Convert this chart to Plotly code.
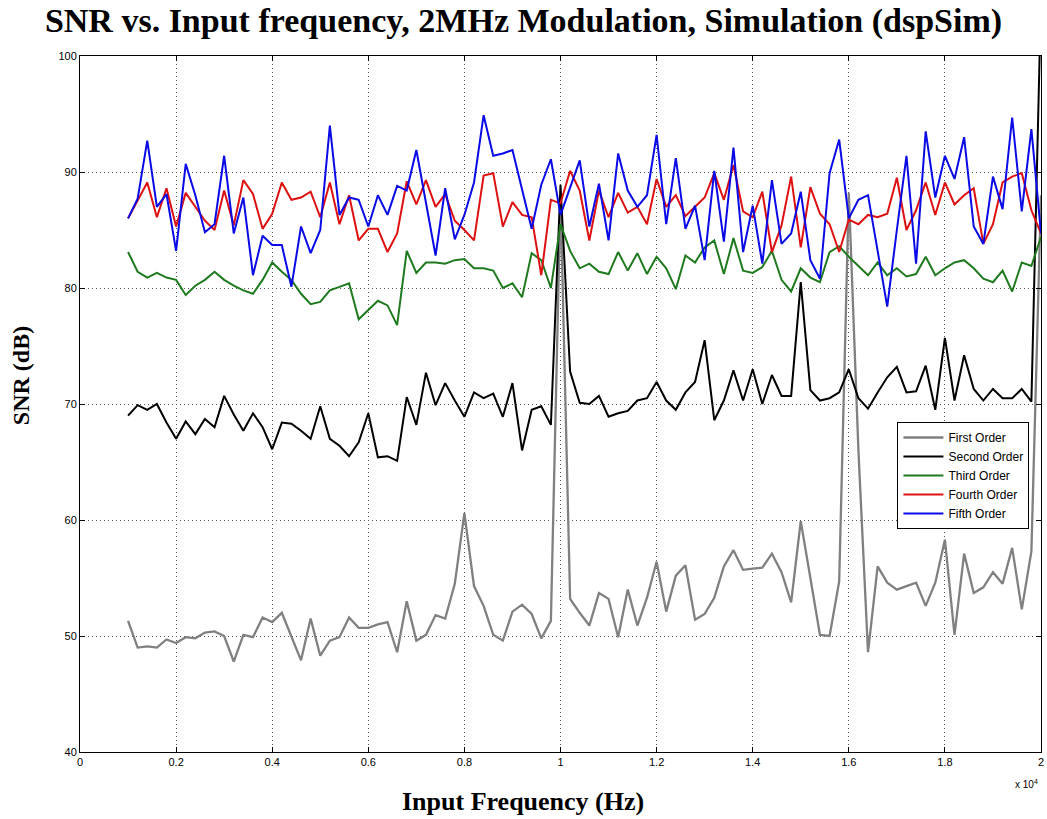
import plotly.graph_objects as go

# Input frequency sampling grid (Hz): 1 kHz to 20 kHz in 200 Hz steps
freq_hz = [1000 + 200 * k for k in range(96)]

first_order = [
    51.3, 49.0, 49.1, 49.0, 49.7, 49.4, 49.9, 49.8, 50.3, 50.4, 50.0, 47.8, 50.1, 49.9, 51.6, 51.2, 52.0, 49.9, 47.9, 51.5, 48.3,
    49.6, 49.9, 51.6, 50.7, 50.7, 51.0, 51.2, 48.6, 53.0, 49.6, 50.1, 51.8, 51.5, 54.5, 60.6, 54.3, 52.6, 50.1, 49.6, 52.1, 52.7, 51.9, 49.8, 51.3,
    88.0,
    53.2, 52.0, 50.9, 53.7, 53.2, 49.9, 54.0, 50.9, 53.3, 56.4, 52.1, 55.2, 56.1, 51.4, 51.9, 53.3, 56.0, 57.4, 55.7, 55.8, 55.9, 57.1, 55.5, 52.9, 59.9,
    55.0, 50.1, 50.0, 54.7, 88.2, 66.0, 48.6, 56.0, 54.6, 54.0, 54.3, 54.6, 52.6, 54.6, 58.3, 50.1, 57.1, 53.7, 54.2, 55.5, 54.5, 57.6, 52.3, 57.3,
    88.0,
]

second_order = [
    69.0, 69.9, 69.5, 70.0, 68.4, 67.0, 68.5, 67.4, 68.7, 68.0, 70.7, 69.1, 67.7, 69.2, 68.0, 66.1, 68.4, 68.3, 67.7, 67.0, 69.8,
    67.0, 66.4, 65.5, 66.7, 69.2, 65.4, 65.5, 65.1, 70.6, 68.2, 72.7, 69.9, 71.8, 70.3, 68.9, 71.0, 70.5, 70.9, 68.9, 71.8, 66.0, 69.5, 69.8, 68.2,
    88.9,
    72.8, 70.1, 70.0, 70.7, 68.9, 69.2, 69.4, 70.3, 70.5, 71.9, 70.3, 69.5, 71.0, 71.9, 75.5, 68.6, 70.3, 72.9, 70.3, 73.0, 70.0, 72.5, 70.7, 70.7,
    80.5,
    71.2, 70.3, 70.5, 71.0, 73.0, 70.5, 69.6, 71.0, 72.3, 73.2, 71.0, 71.1, 73.3, 69.5, 75.7, 70.3, 74.2, 71.3, 70.3, 71.3, 70.5, 70.5, 71.3, 70.2,
    105.0,
]

third_order = [
    83.1, 81.4, 80.9, 81.3, 80.9, 80.7, 79.4, 80.2, 80.7, 81.4, 80.7, 80.2, 79.8, 79.5, 80.7, 82.2, 81.4, 80.7, 79.5, 78.6, 78.8,
    79.8, 80.1, 80.4, 77.3, 78.1, 78.9, 78.5, 76.8, 83.2, 81.3, 82.2, 82.2, 82.1, 82.4, 82.5, 81.7, 81.7, 81.5, 80.0, 80.4, 79.2, 83.0, 82.4, 80.0,
    85.5,
    83.2, 81.7, 82.1, 81.4, 81.2, 83.1, 81.5, 83.0, 81.2, 82.7, 81.7, 79.9, 82.8, 82.2, 83.5, 84.1, 81.2, 84.3, 81.5, 81.3, 81.8, 83.2, 80.7, 79.7, 81.7,
    80.9, 80.5, 83.1, 83.6, 82.7, 81.9, 81.1, 82.2, 81.1, 81.7, 81.0, 81.2, 82.7, 81.1, 81.7, 82.2, 82.4, 81.7, 80.8, 80.5, 81.5, 79.7, 82.2, 81.9, 84.4,
]

fourth_order = [
    86.0, 87.6, 89.1, 86.1, 88.6, 85.3, 88.2, 87.0, 85.8, 85.0, 88.4, 85.4, 89.3, 88.1, 85.1, 86.4, 89.1, 87.6, 87.8, 88.3, 86.1,
    89.1, 85.5, 88.0, 84.1, 85.1, 85.1, 83.1, 84.7, 89.2, 87.2, 89.3, 87.0, 88.1, 85.8, 85.0, 84.1, 89.7, 89.9, 85.3, 87.4, 86.3, 86.1, 81.1, 87.6, 87.3,
    90.1, 88.4, 84.1, 88.4, 86.1, 88.2, 86.5, 87.0, 85.5, 89.4, 87.0, 88.0, 86.2, 87.0, 87.8, 89.9, 87.6, 90.6, 86.6, 86.1, 88.3, 83.1, 85.4, 89.6, 83.5,
    88.7, 86.4, 85.5, 83.1, 85.9, 85.5, 86.3, 86.1, 86.4, 89.5, 85.0, 86.7, 89.1, 86.3, 89.1, 87.2, 88.0, 88.6, 83.8, 85.5, 89.1, 89.6, 89.9, 86.7, 84.7,
]

fifth_order = [
    86.0, 87.7, 92.7, 87.0, 88.1, 83.2, 90.7, 88.0, 84.8, 85.5, 91.4, 84.7, 87.8, 81.1, 84.5, 83.7, 83.7, 80.1, 85.3, 83.0, 85.0,
    94.0, 86.3, 87.8, 87.6, 85.3, 88.0, 86.3, 88.8, 88.4, 91.9, 87.4, 82.8, 88.6, 84.2, 86.3, 89.1, 94.9, 91.4, 91.6, 91.9, 88.5, 85.1, 88.9, 91.1, 86.3,
    88.7, 91.0, 85.3, 89.0, 84.1, 91.6, 88.4, 87.0, 88.0, 93.2, 85.5, 91.2, 85.1, 87.1, 82.4, 90.1, 84.0, 92.1, 83.1, 87.1, 82.1, 89.3, 83.8, 84.7, 88.3,
    82.4, 80.8, 89.9, 92.8, 86.0, 87.6, 88.0, 83.2, 78.4, 85.0, 91.4, 82.1, 93.5, 87.8, 91.4, 89.4, 93.0, 85.3, 83.8, 89.6, 86.8, 94.7, 86.6, 93.7, 84.7,
]

series_names = ["First Order", "Second Order", "Third Order", "Fourth Order", "Fifth Order"]
series_values = [first_order, second_order, third_order, fourth_order, fifth_order]
series_colors = ["#808080", "#000000", "#1f7a1f", "#dd1111", "#0a0ae6"]
series_widths = [2.3, 2, 2, 2, 2]

x_tick_vals = [0, 2000, 4000, 6000, 8000, 10000, 12000, 14000, 16000, 18000, 20000]
x_tick_text = ["0", "0.2", "0.4", "0.6", "0.8", "1", "1.2", "1.4", "1.6", "1.8", "2"]
y_tick_vals = [40, 50, 60, 70, 80, 90, 100]

fig = go.Figure()
for name, vals, col, w in zip(series_names, series_values, series_colors, series_widths):
    fig.add_trace(go.Scatter(x=freq_hz, y=vals, mode="lines", name=name,
                             line=dict(color=col, width=w)))

axis_common = dict(
    showline=True, linecolor="#000000", linewidth=1, mirror="ticks",
    ticks="inside", ticklen=5, tickcolor="#000000",
    showgrid=True, gridcolor="#555555", griddash="1px,3px", gridwidth=1,
    zeroline=False,
    tickfont=dict(family="Liberation Sans, Arial, sans-serif", size=11, color="#000000"),
    ticklabeloverflow="allow",
)

fig.update_layout(
    width=1047, height=819,
    paper_bgcolor="white", plot_bgcolor="white",
    margin=dict(l=80, r=3, t=56, b=67),
    showlegend=True,
    title=dict(
        text="SNR vs. Input frequency, 2MHz Modulation, Simulation (dspSim)",
        font=dict(family="Liberation Serif, Times New Roman, serif", size=34, color="#000000", weight="bold"),
        xref="container", x=0.5, xanchor="center",
        yref="container", y=1 - 20 / 819, yanchor="middle",
    ),
    xaxis=dict(range=[0, 20000], tickvals=x_tick_vals, ticktext=x_tick_text, **axis_common),
    yaxis=dict(range=[40, 100], tickvals=y_tick_vals, **axis_common),
    legend=dict(
        x=(900 - 80) / 964, y=(752 - 422) / 696, xanchor="left", yanchor="top",
        bgcolor="white", bordercolor="#000000", borderwidth=1,
        font=dict(family="Liberation Sans, Arial, sans-serif", size=12, color="#000000"),
        tracegroupgap=0, itemwidth=40,
    ),
    annotations=[
        dict(text="<b>Input Frequency (Hz)</b>", xref="paper", yref="paper",
             x=(524 - 80) / 964, y=(752 - 801) / 696, xanchor="center", yanchor="middle",
             showarrow=False,
             font=dict(family="Liberation Serif, Times New Roman, serif", size=26, color="#000000")),
        dict(text="<b>SNR (dB)</b>", xref="paper", yref="paper",
             x=(21 - 80) / 964, y=(752 - 376) / 696, xanchor="center", yanchor="middle",
             textangle=-90, showarrow=False,
             font=dict(family="Liberation Serif, Times New Roman, serif", size=24, color="#000000")),
        dict(text="x 10<sup>4</sup>", xref="paper", yref="paper",
             x=(1043 - 80) / 964, y=(752 - 784) / 696, xanchor="right", yanchor="middle",
             showarrow=False,
             font=dict(family="Liberation Sans, Arial, sans-serif", size=10, color="#000000")),
    ],
)

fig.write_html("out.html")
